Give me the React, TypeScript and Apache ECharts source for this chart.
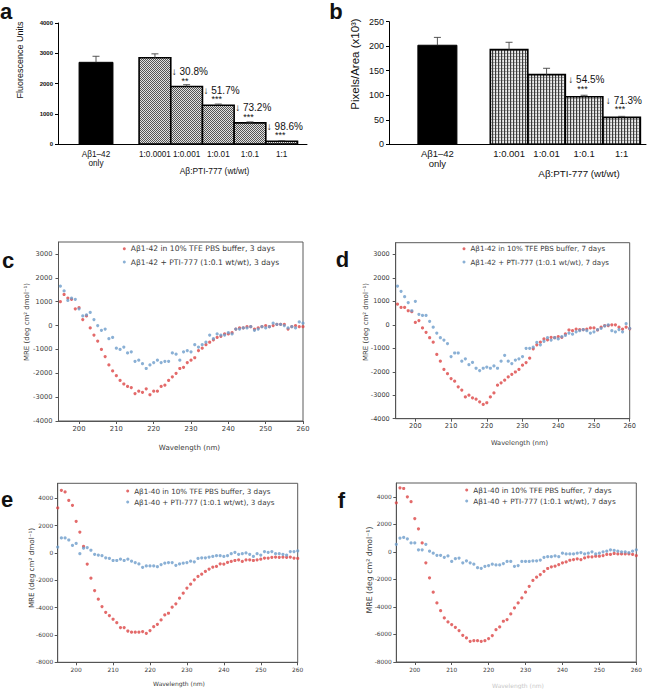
import React, { useEffect, useRef } from "react";
import * as echarts from "echarts";

// ---------------- Panel a ----------------
const aCategories = ["Aβ1–42\nonly", "1:0.0001", "1:0.001", "1:0.01", "1:0.1", "1:1"];
const aValues = [2700, 2850, 1900, 1280, 700, 90];
const aErrorTops = [2900, 2980, 1960, 1320, 730, 110];
const aChange = ["", "", "↓ 30.8%", "↓ 51.7%", "↓ 73.2%", "↓ 98.6%"];
const aStars = ["", "", "**", "***", "***", "***"];
const aGroupLabel = "Aβ:PTI-777 (wt/wt)";
const aYTitle = "Fluorescence Units";

// ---------------- Panel b ----------------
const bCategories = ["Aβ1–42\nonly", "1:0.001", "1:0.01", "1:0.1", "1:1"];
const bValues = [202, 193, 142, 97, 55];
const bErrorTops = [218, 208, 155, 100, 57];
const bChange = ["", "", "", "↓ 54.5%", "↓ 71.3%"];
const bStars = ["", "", "", "***", "***"];
const bGroupLabel = "Aβ:PTI-777 (wt/wt)";
const bYTitle = "Pixels/Area (x10³)";

// ---------------- CD spectra (c–f) ----------------
const wavelengths = [
  195, 196, 197, 198, 199, 200, 201, 202, 203, 204, 205, 206, 207, 208, 209, 210, 211, 212, 213, 214,
  215, 216, 217, 218, 219, 220, 221, 222, 223, 224, 225, 226, 227, 228, 229, 230, 231, 232, 233, 234,
  235, 236, 237, 238, 239, 240, 241, 242, 243, 244, 245, 246, 247, 248, 249, 250, 251, 252, 253, 254,
  255, 256, 257, 258, 259, 260,
];
const wlTicks = [200, 210, 220, 230, 240, 250, 260];
const mreTicks42 = [-4000, -3000, -2000, -1000, 0, 1000, 2000, 3000];
const mreTicks40 = [-8000, -6000, -4000, -2000, 0, 2000, 4000];

const cName1 = "Aβ1-42 in 10% TFE PBS buffer, 3 days";
const cName2 = "Aβ1-42 + PTI-777 (1:0.1 wt/wt), 3 days";
const cRed = [
  1000, 1300, 1150, 1100, 700, 750, 250, 400, -100, -400,
  -650, -1000, -1300, -1650, -1900, -2100, -2300, -2450, -2550, -2600,
  -2850, -2750, -2800, -2650, -2900, -2750, -2750, -2550, -2500, -2300,
  -2150, -2000, -1800, -1750, -1550, -1450, -1350, -1050, -950, -800,
  -700, -600, -500, -450, -350, -350, -300, -150, -100, -100,
  -50, -50, -150, -100, -50, 0, -50, 0, 50, 50,
  50, -150, -50, 0, -50, -50,
];
const cBlue = [
  1650, 1450, 1050, 1150, 1100, 700, 400, 450, 550, 250,
  0, -200, -150, -550, -500, -950, -1000, -900, -1150, -1100,
  -1500, -1450, -1600, -1800, -1650, -1550, -1450, -1550, -1500, -1500,
  -1150, -1200, -1450, -1100, -1050, -1100, -800, -900, -800, -700,
  -400, -550, -350, -400, -400, -300, -350, -150, -150, -100,
  -100, -50, -200, -150, -50, -100, -50, 100, 50, 50,
  0, -100, -50, -100, 150, 100,
];

const dName1 = "Aβ1-42 in 10% TFE PBS buffer, 7 days";
const dName2 = "Aβ1-42 + PTI-777 (1:0.1 wt/wt), 7 days";
const dRed = [
  880, 740, 740, 600, 560, 100, 180, -130, -320, -550,
  -740, -1260, -1550, -1900, -2080, -2290, -2400, -2640, -2780, -3070,
  -3000, -3110, -3170, -3280, -3390, -3320, -3070, -2900, -2570, -2470,
  -2360, -2220, -2110, -2010, -1900, -1720, -1610, -1420, -1020, -850,
  -740, -600, -640, -530, -550, -500, -530, -390, -220, -250,
  -180, -200, -200, -180, -130, -130, -220, -100, -30, -30,
  0, 0, -100, -180, -100, -170,
];
const dBlue = [
  1650, 1430, 1200, 950, 600, 1000, 450, 400, 400, 150,
  -100, -350, -550, -650, -800, -1350, -1200, -1200, -1550, -1450,
  -1700, -1600, -1850, -1950, -1850, -1800, -1850, -1750, -1850, -1550,
  -1300, -1550, -1650, -1500, -1450, -1350, -1000, -1000, -950, -750,
  -850, -700, -550, -650, -550, -600, -500, -450, -350, -400,
  -300, -250, -200, -250, -350, -300, -200, -150, -50, 0,
  -250, -300, -200, -300, 50, -150,
];

const eName1 = "Aβ1-40 in 10% TFE PBS buffer, 3 days";
const eName2 = "Aβ1-40 + PTI-777 (1:0.1 wt/wt), 3 days";
const eRed = [
  3300, 4590, 4470, 3850, 3490, 2320, 1530, 480, -810, -1840,
  -2750, -3380, -3920, -4340, -4580, -4850, -5100, -5460, -5460, -5710,
  -5800, -5800, -5800, -5750, -5880, -5680, -5390, -5220, -4900, -4530,
  -4410, -3970, -3720, -3310, -2940, -2570, -2280, -1960, -1720, -1550,
  -1350, -1180, -1030, -980, -790, -810, -690, -620, -550, -500,
  -620, -500, -500, -550, -500, -450, -370, -370, -320, -300,
  -320, -300, -320, -300, -370, -400,
];
const eBlue = [
  430, 1100, 1100, 950, 550, 700, -50, 350, 400, 200,
  -100, -150, -200, -350, -400, -550, -550, -450, -550, -450,
  -600, -700, -800, -1050, -950, -950, -950, -1000, -850, -750,
  -700, -700, -900, -800, -750, -700, -600, -650, -400, -350,
  -350, -300, -250, -200, -200, -250, -200, -50, 50, -100,
  -50, 0, -100, -250, -50, -150, 100, 50, 100, -50,
  -50, -100, -150, 100, 100, 150,
];

const fName1 = "Aβ1-40 in 10% TFE PBS buffer, 7 days";
const fName2 = "Aβ1-40 + PTI-777 (1:0.1 wt/wt), 7 days";
const fRed = [
  3560, 4650, 4600, 4000, 3640, 2420, 1670, 650, -800, -1890,
  -2930, -3710, -4270, -4800, -5090, -5280, -5480, -5720, -6060, -6250,
  -6500, -6450, -6450, -6500, -6450, -6300, -6080, -5650, -5450, -5040,
  -4920, -4510, -4070, -3710, -3350, -2930, -2500, -2080, -1840, -1650,
  -1410, -1210, -1090, -1040, -920, -800, -730, -610, -560, -510,
  -560, -440, -360, -360, -320, -320, -270, -190, -190, -120,
  -150, -150, -150, -150, -190, -270,
];
const fBlue = [
  550, 1000, 1050, 950, 650, 650, 150, 150, 550, 50,
  -100, -250, -250, -400, -300, -700, -500, -450, -800, -650,
  -800, -900, -1150, -1200, -1050, -1000, -900, -950, -950, -850,
  -700, -700, -1050, -1000, -700, -700, -700, -650, -650, -600,
  -400, -350, -350, -300, -350, -100, -150, -150, -150, -100,
  -50, -150, -100, 0, -150, -100, 0, 50, 150, 100,
  50, 0, 0, -50, 50, 150,
];

const mreTitle = "MRE (deg cm² dmol⁻¹)";
const wlTitle = "Wavelength (nm)";

// ---------------- layout (positions of bar slots on the x scale) ----------------
const A_SLOTS = [1.2, 3.06, 4.06, 5.06, 6.06, 7.06];
const A_XMAX = 7.86;
const B_SLOTS = [1.29, 3.2, 4.2, 5.2, 6.2];
const B_XMAX = 6.85;

const FA = '"Liberation Sans", Arial, sans-serif';
const FD = '"DejaVu Sans", Verdana, sans-serif';
const RED = "#dc4545";
const BLUE = "#6d9cca";
const CDTEXT = "#3a3a3a";

function makePattern(cells: string[][]) {
  const h = cells.length;
  const w = cells[0].length;
  const c = document.createElement("canvas");
  c.width = w;
  c.height = h;
  const ctx = c.getContext("2d")!;
  for (let y = 0; y < h; y++) {
    for (let x = 0; x < w; x++) {
      ctx.fillStyle = cells[y][x];
      ctx.fillRect(x, y, 1, 1);
    }
  }
  return { image: c, repeat: "repeat", imageWidth: w, imageHeight: h } as any;
}

function labelFor(slots: number[], cats: string[]) {
  return (v: number) => {
    const i = slots.findIndex((s) => Math.abs(s - v) < 0.001);
    return i >= 0 ? cats[i] : "";
  };
}

export default function App() {
  const ref = useRef<HTMLDivElement>(null);

  useEffect(() => {
    if (!ref.current) return;
    const chart = echarts.init(ref.current, null, { renderer: "svg" });

    const patA = makePattern([
      ["#555555", "#e2e2e2"],
      ["#e2e2e2", "#555555"],
    ]);
    const patB = makePattern([
      ["#3a3a3a", "#cfcfcf", "#ececec"],
      ["#3a3a3a", "#cfcfcf", "#ececec"],
      ["#3a3a3a", "#8c8c8c", "#a8a8a8"],
    ]);

    const barSeries = (axis: number, slots: number[], values: number[], blackHalf: number, pat: any) => ({
      type: "custom",
      xAxisIndex: axis,
      yAxisIndex: axis,
      silent: true,
      data: values.map((v, i) => [slots[i], v, i]),
      renderItem: (_p: any, api: any) => {
        const i = api.value(2);
        const x = api.value(0);
        const v = api.value(1);
        const hw = i === 0 ? blackHalf : 0.5;
        const p0 = api.coord([x - hw, v]);
        const p1 = api.coord([x + hw, 0]);
        return {
          type: "rect",
          shape: { x: p0[0], y: p0[1], width: p1[0] - p0[0], height: p1[1] - p0[1] },
          style: { fill: i === 0 ? "#000" : pat, stroke: "#000", lineWidth: i === 0 ? 1 : 1.6 },
        };
      },
      z: 2,
    });

    const errSeries = (axis: number, slots: number[], values: number[], tops: number[]) => ({
      type: "custom",
      xAxisIndex: axis,
      yAxisIndex: axis,
      silent: true,
      data: values.map((v, i) => [slots[i], v, tops[i]]),
      renderItem: (_p: any, api: any) => {
        const x = api.value(0);
        const b = api.coord([x, api.value(1)]);
        const t = api.coord([x, api.value(2)]);
        const st = { stroke: "#444", lineWidth: 0.9 };
        return {
          type: "group",
          children: [
            { type: "line", shape: { x1: b[0], y1: b[1], x2: t[0], y2: t[1] }, style: st },
            { type: "line", shape: { x1: t[0] - 3.5, y1: t[1], x2: t[0] + 3.5, y2: t[1] }, style: st },
          ],
        };
      },
      z: 3,
    });

    const annSeries = (
      axis: number,
      slots: number[],
      values: number[],
      change: string[],
      stars: string[],
      fs: number,
      dxC: number,
      dyC: number,
      dyS: number
    ) => ({
      type: "custom",
      xAxisIndex: axis,
      yAxisIndex: axis,
      silent: true,
      data: values.map((v, i) => [slots[i], v, i]).filter((d) => change[d[2]] !== ""),
      renderItem: (_p: any, api: any) => {
        const i = api.value(2);
        const s = api.value(0);
        const v = api.value(1);
        const l = api.coord([s - 0.5, v]);
        const m = api.coord([s, v]);
        return {
          type: "group",
          children: [
            {
              type: "text",
              x: l[0] + dxC,
              y: l[1] - dyC,
              style: { text: change[i], fontSize: fs, fontFamily: FA, fill: "#111", align: "left", verticalAlign: "middle" },
            },
            {
              type: "text",
              x: m[0] - 1.5,
              y: m[1] - dyS,
              style: { text: stars[i], fontSize: fs - 1, fontFamily: FA, fill: "#111", align: "center", verticalAlign: "middle" },
            },
          ],
        };
      },
      z: 4,
    });

    const cdX = (gi: number, min: number, fs: number, margin: number) => ({
      type: "value",
      gridIndex: gi,
      min,
      max: 260,
      splitLine: { show: false },
      axisLine: { show: true, onZero: false, lineStyle: { color: "#555", width: 1 } },
      axisTick: { show: true, inside: false, length: 3, customValues: wlTicks, lineStyle: { color: "#555" } },
      axisLabel: {
        customValues: wlTicks,
        fontSize: fs,
        fontFamily: FD,
        color: CDTEXT,
        margin,
        formatter: (v: number) => String(v),
      },
    });
    const cdY = (gi: number, min: number, max: number, ticks: number[], fs: number, margin: number) => ({
      type: "value",
      gridIndex: gi,
      min,
      max,
      splitLine: { show: false },
      axisLine: { show: true, onZero: false, lineStyle: { color: "#555", width: 1 } },
      axisTick: { show: true, inside: false, length: 3, customValues: ticks, lineStyle: { color: "#555" } },
      axisLabel: {
        customValues: ticks,
        fontSize: fs,
        fontFamily: FD,
        color: CDTEXT,
        margin,
        formatter: (v: number) => String(v),
      },
    });

    const cdGrid = (left: number, top: number, width: number, height: number) => ({
      left,
      top,
      width,
      height,
      show: true,
      borderColor: "#5a5a5a",
      borderWidth: 1,
      backgroundColor: "transparent",
    });

    const scatter = (idx: number, name: string, vals: number[], color: string) => ({
      type: "scatter",
      name,
      xAxisIndex: idx,
      yAxisIndex: idx,
      symbol: "circle",
      symbolSize: 3.2,
      silent: true,
      itemStyle: { color },
      data: wavelengths.map((w, i) => [w, vals[i]]),
    });

    const legend = (names: string[], left: number, top: number, fs: number, gap: number) => ({
      data: names,
      left,
      top,
      orient: "vertical",
      icon: "circle",
      itemWidth: 3,
      itemHeight: 3,
      itemGap: gap,
      padding: 0,
      selectedMode: false,
      textStyle: { fontSize: fs, fontFamily: FD, color: CDTEXT, lineHeight: 9 },
    });

    const txt = (text: string, x: number, y: number, fontSize: number, extra: any = {}) => ({
      type: "text",
      x,
      y,
      rotation: extra.rotation || 0,
      silent: true,
      style: {
        text,
        fontSize,
        fontFamily: extra.fontFamily || FA,
        fontWeight: extra.fontWeight || "normal",
        fill: extra.fill || "#111",
        align: "center",
        verticalAlign: "middle",
      },
    });

    const option: any = {
      animation: false,
      backgroundColor: "#ffffff",
      grid: [
        { left: 58, top: 23, width: 249, height: 121 },
        { left: 389, top: 21.7, width: 257, height: 122.6 },
        cdGrid(58.5, 242, 244.5, 179),
        cdGrid(395.7, 242.7, 234, 176),
        cdGrid(57.7, 483.3, 240, 179),
        cdGrid(396.3, 483, 240, 179),
      ],
      xAxis: [
        {
          type: "value",
          gridIndex: 0,
          min: 0,
          max: A_XMAX,
          splitLine: { show: false },
          axisLine: { show: true, lineStyle: { color: "#000", width: 1 } },
          axisTick: { show: false },
          axisLabel: {
            customValues: A_SLOTS,
            formatter: labelFor(A_SLOTS, aCategories),
            fontSize: 8.2,
            lineHeight: 9,
            fontFamily: FA,
            color: "#111",
            margin: 6,
          },
        },
        {
          type: "value",
          gridIndex: 1,
          min: 0,
          max: B_XMAX,
          splitLine: { show: false },
          axisLine: { show: true, lineStyle: { color: "#000", width: 1 } },
          axisTick: { show: false },
          axisLabel: {
            customValues: B_SLOTS,
            formatter: labelFor(B_SLOTS, bCategories),
            fontSize: 9.5,
            lineHeight: 10,
            fontFamily: FA,
            color: "#111",
            margin: 4,
          },
        },
        cdX(2, 194.5, 6.8, 4),
        cdX(3, 194.5, 6.6, 4),
        cdX(4, 195, 5.9, 5),
        cdX(5, 195, 5.8, 5),
      ],
      yAxis: [
        {
          type: "value",
          gridIndex: 0,
          min: 0,
          max: 4000,
          interval: 1000,
          splitLine: { show: false },
          axisLine: { show: true, lineStyle: { color: "#000", width: 1 } },
          axisTick: { show: true, length: 3, lineStyle: { color: "#000" } },
          axisLabel: {
            fontSize: 6,
            fontWeight: "bold",
            fontFamily: FA,
            color: "#111",
            margin: 5,
            formatter: (v: number) => String(v),
          },
        },
        {
          type: "value",
          gridIndex: 1,
          min: 0,
          max: 250,
          interval: 50,
          splitLine: { show: false },
          axisLine: { show: true, lineStyle: { color: "#000", width: 1 } },
          axisTick: { show: true, length: 3, lineStyle: { color: "#000" } },
          axisLabel: {
            fontSize: 9,
            fontFamily: FA,
            color: "#111",
            margin: 5,
            formatter: (v: number) => String(v),
          },
        },
        cdY(2, -4000, 3500, mreTicks42, 6.7, 6),
        cdY(3, -4000, 3500, mreTicks42, 6.5, 6),
        cdY(4, -8000, 5100, mreTicks40, 5.9, 4.5),
        cdY(5, -8000, 5000, mreTicks40, 5.9, 4.5),
      ],
      legend: [
        legend([cName1, cName2], 122.8, 244.2, 7.6, 4.3),
        legend([dName1, dName2], 462.5, 244.2, 7.1, 4.3),
        legend([eName1, eName2], 126.2, 486.5, 7.2, 2),
        legend([fName1, fName2], 465.2, 485.5, 7.3, 2),
      ],
      series: [
        barSeries(0, A_SLOTS, aValues, 0.535, patA),
        errSeries(0, A_SLOTS, aValues, aErrorTops),
        annSeries(0, A_SLOTS, aValues, aChange, aStars, 10, 1, 15, 6),
        barSeries(1, B_SLOTS, bValues, 0.52, patB),
        errSeries(1, B_SLOTS, bValues, bErrorTops),
        annSeries(1, B_SLOTS, bValues, bChange, bStars, 10, 3, 17, 8),
        scatter(2, cName1, cRed, RED),
        scatter(2, cName2, cBlue, BLUE),
        scatter(3, dName1, dRed, RED),
        scatter(3, dName2, dBlue, BLUE),
        scatter(4, eName1, eRed, RED),
        scatter(4, eName2, eBlue, BLUE),
        scatter(5, fName1, fRed, RED),
        scatter(5, fName2, fBlue, BLUE),
      ],
      graphic: [
        txt("a", 6, 11, 22, { fontWeight: "bold" }),
        txt("b", 336, 11, 22, { fontWeight: "bold" }),
        txt("c", 8, 260, 22, { fontWeight: "bold" }),
        txt("d", 342.5, 259, 22, { fontWeight: "bold" }),
        txt("e", 7, 499, 22, { fontWeight: "bold" }),
        txt("f", 341.5, 500, 22, { fontWeight: "bold" }),
        txt(aGroupLabel, 214.5, 171, 8.4),
        txt(bGroupLabel, 579, 173, 9.8),
        txt(aYTitle, 20, 60, 9, { rotation: Math.PI / 2 }),
        txt(bYTitle, 355, 64, 11.5, { rotation: Math.PI / 2 }),
        txt(mreTitle, 27, 322, 7, { rotation: Math.PI / 2, fontFamily: FD, fill: CDTEXT }),
        txt(mreTitle, 366, 322, 7, { rotation: Math.PI / 2, fontFamily: FD, fill: CDTEXT }),
        txt(mreTitle, 31, 568, 7.2, { rotation: Math.PI / 2, fontFamily: FD, fill: CDTEXT }),
        txt(mreTitle, 369, 570, 7.8, { rotation: Math.PI / 2, fontFamily: FD, fill: CDTEXT }),
        txt(wlTitle, 189.5, 447, 7.1, { fontFamily: FD, fill: CDTEXT }),
        txt(wlTitle, 519.5, 443, 6.6, { fontFamily: FD, fill: CDTEXT }),
        txt(wlTitle, 179, 683, 6, { fontFamily: FD, fill: CDTEXT }),
        txt(wlTitle, 518, 685, 6, { fontFamily: FD, fill: "#c8c8c8" }),
      ],
    };

    chart.setOption(option);
    return () => chart.dispose();
  }, []);

  return (
    <div
      ref={ref}
      style={{ position: "absolute", left: 0, top: 0, width: 648, height: 689, background: "#fff" }}
    />
  );
}
